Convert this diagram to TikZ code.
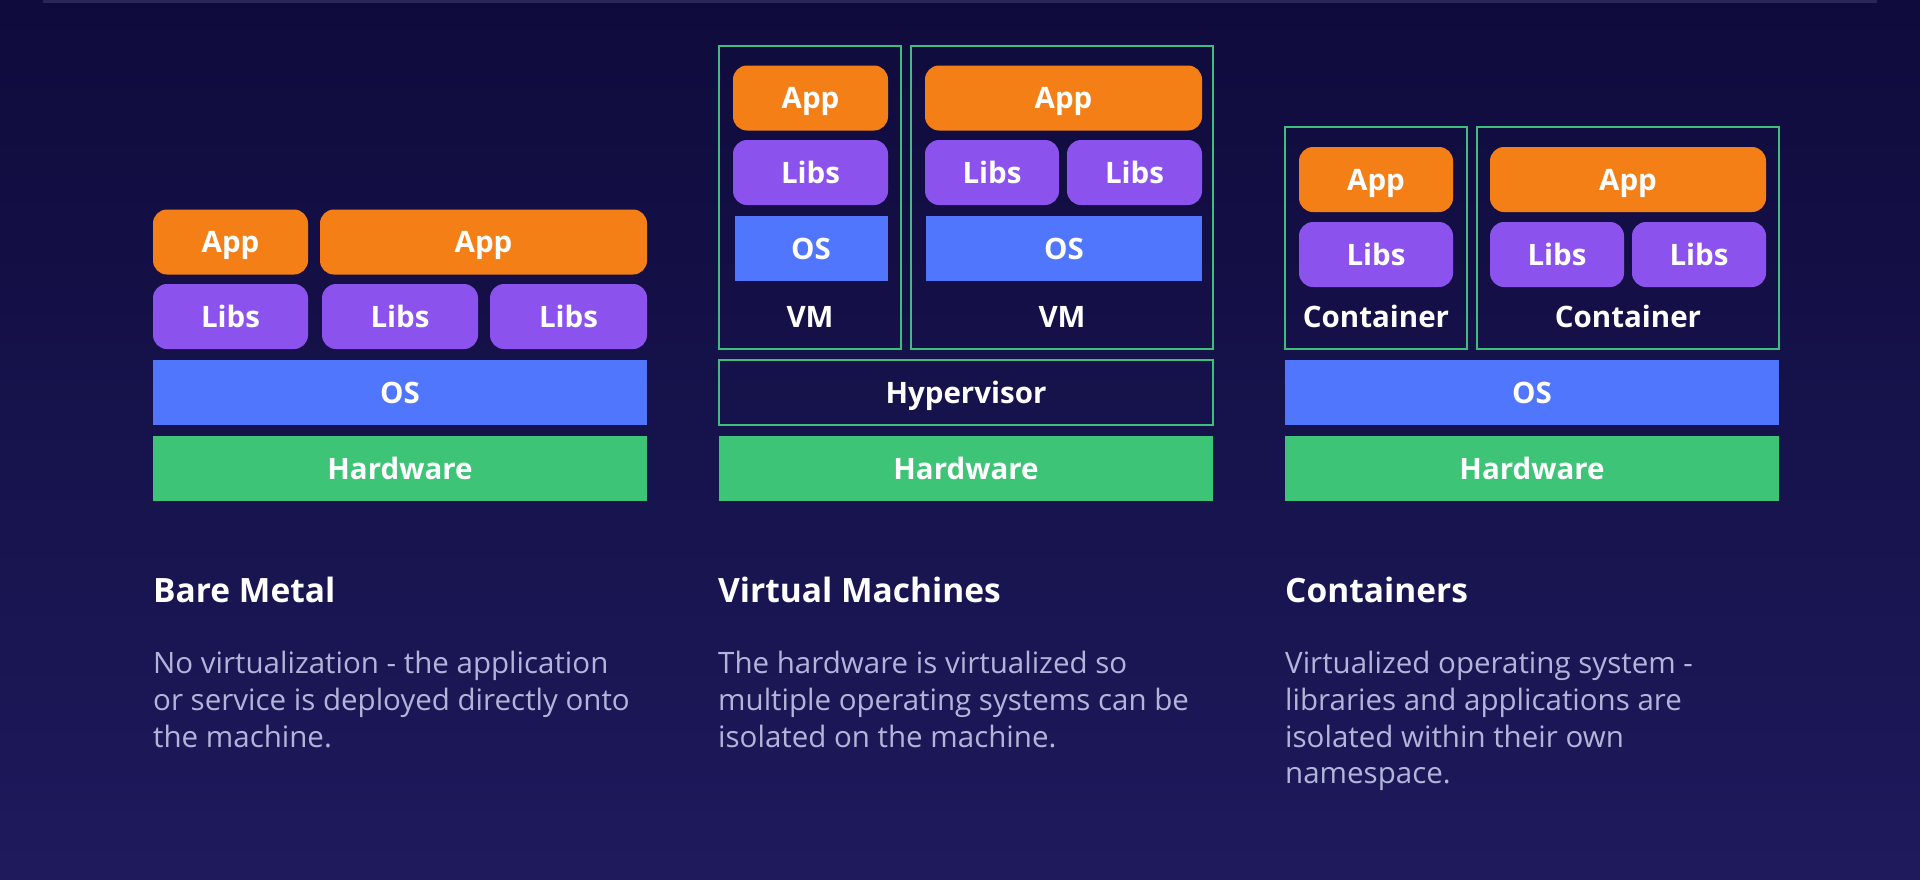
\documentclass[tikz,border=0pt]{standalone}
\usepackage{fontspec}
\setmainfont{Open Sans}
\definecolor{bgtop}{HTML}{0F0B3C}
\definecolor{bgbot}{HTML}{1E1A5C}
\definecolor{barcol}{HTML}{2A2656}
\definecolor{appcol}{HTML}{F47F17}
\definecolor{libscol}{HTML}{8C52EE}
\definecolor{oscol}{HTML}{4F76FC}
\definecolor{hwcol}{HTML}{3EC477}
\definecolor{framecol}{HTML}{3DBE7A}
\definecolor{bodycol}{HTML}{B3B4D9}
\begin{document}
\begin{tikzpicture}[x=1pt,y=-1pt,
        layer/.style={inner sep=0pt,minimum height=65pt,text height=21pt,text depth=0pt,
            text=white,font=\fontsize{29.5}{33}\selectfont\bfseries},
        app/.style={layer,fill=appcol,rounded corners=14pt},
        libs/.style={layer,fill=libscol,rounded corners=14pt},
        os/.style={layer,fill=oscol},
        hw/.style={layer,fill=hwcol},
        frame/.style={layer,draw=framecol,line width=2pt},
        tag/.style={layer,minimum height=0pt},
        title/.style={anchor=base west,inner sep=0pt,text=white,
            font=\fontsize{33.5}{40}\selectfont\bfseries},
        blurb/.style={anchor=north west,inner sep=0pt,text=bodycol,align=left,
            font=\fontsize{29.5}{36.7}\selectfont}
    ]
    \useasboundingbox (0,0) rectangle (1920,879);
    \shade[top color=bgtop,bottom color=bgbot] (0,0) rectangle (1920,879);
    \fill[barcol] (43,0) rectangle (1877,3);

    \node[app,minimum width=155pt] (bmapp1) at (230.5,242) {App};
    \node[app,minimum width=327pt] (bmapp2) at (483.5,242) {App};
    \node[libs,minimum width=155pt] (bmlibs1) at (230.5,316.5) {Libs};
    \node[libs,minimum width=156pt] (bmlibs2) at (400,316.5) {Libs};
    \node[libs,minimum width=157pt] (bmlibs3) at (568.5,316.5) {Libs};
    \node[os,minimum width=494pt] (bmos) at (400,392.5) {OS};
    \node[hw,minimum width=494pt] (bmhw) at (400,468.5) {Hardware};

    \node[frame,minimum width=182pt,minimum height=303pt] (vm1) at (810,197.5) {};
    \node[frame,minimum width=302pt,minimum height=303pt] (vm2) at (1062,197.5) {};
    \node[app,minimum width=155pt] (vm1app) at (810.5,98) {App};
    \node[libs,minimum width=155pt] (vm1libs) at (810.5,172.5) {Libs};
    \node[os,minimum width=153pt] (vm1os) at (811,248.5) {OS};
    \node[tag] (vm1tag) at (810,317) {VM};
    \node[app,minimum width=277pt] (vm2app) at (1063.5,98) {App};
    \node[libs,minimum width=134pt] (vm2libs1) at (992,172.5) {Libs};
    \node[libs,minimum width=135pt] (vm2libs2) at (1134.5,172.5) {Libs};
    \node[os,minimum width=276pt] (vm2os) at (1064,248.5) {OS};
    \node[tag] (vm2tag) at (1062,317) {VM};
    \node[frame,minimum width=494pt] (hyp) at (966,392.5) {Hypervisor};
    \node[hw,minimum width=494pt] (vmhw) at (966,468.5) {Hardware};

    \node[frame,minimum width=182pt,minimum height=222pt] (ct1) at (1376,238) {};
    \node[frame,minimum width=302pt,minimum height=222pt] (ct2) at (1628,238) {};
    \node[app,minimum width=154pt] (ct1app) at (1376,179.5) {App};
    \node[libs,minimum width=154pt] (ct1libs) at (1376,254.5) {Libs};
    \node[tag] (ct1tag) at (1376,317) {Container};
    \node[app,minimum width=276pt] (ct2app) at (1628,179.5) {App};
    \node[libs,minimum width=134pt] (ct2libs1) at (1557,254.5) {Libs};
    \node[libs,minimum width=134pt] (ct2libs2) at (1699,254.5) {Libs};
    \node[tag] (ct2tag) at (1628,317) {Container};
    \node[os,minimum width=494pt] (ctos) at (1532,392.5) {OS};
    \node[hw,minimum width=494pt] (cthw) at (1532,468.5) {Hardware};

    \node[title] (bmtitle) at (153,602) {Bare Metal};
    \node[title] (vmtitle) at (718,602) {Virtual Machines};
    \node[title] (cttitle) at (1285,602) {Containers};
    \node[blurb] (bmtext) at (153,651) {No virtualization - the application\\
        or service is deployed directly onto\\the machine.};
    \node[blurb] (vmtext) at (718,651) {The hardware is virtualized so\\
        multiple operating systems can be\\isolated on the machine.};
    \node[blurb] (cttext) at (1285,651) {Virtualized operating system -\\
        libraries and applications are\\isolated within their own\\namespace.};
\end{tikzpicture}
\end{document}
